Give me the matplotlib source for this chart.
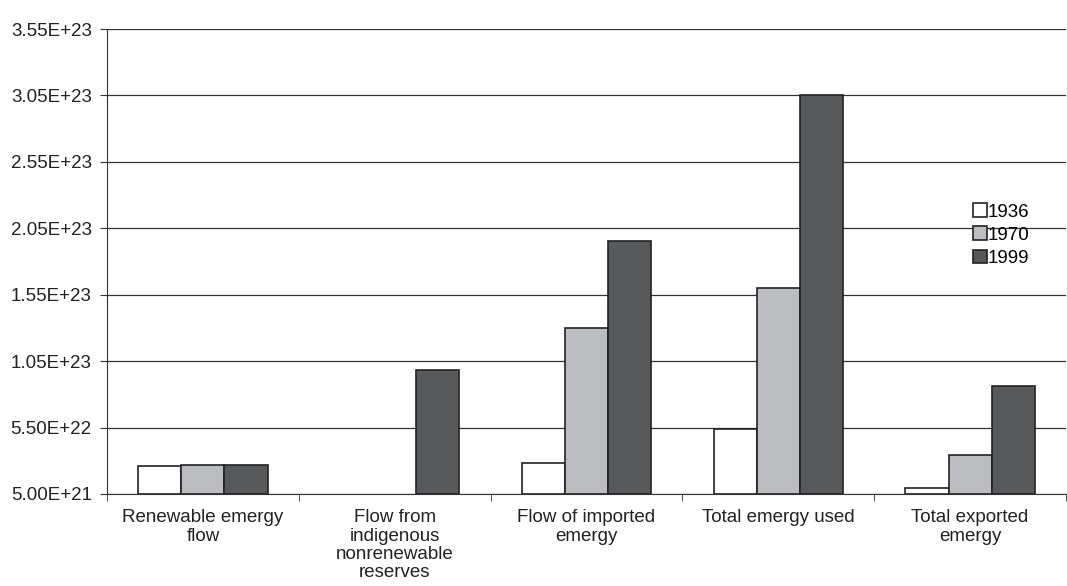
import numpy as np
import matplotlib.pyplot as plt
from matplotlib.ticker import FixedLocator, NullFormatter

categories = ["Renewable emergy\nflow",
              "Flow from\nindigenous\nnonrenewable\nreserves",
              "Flow of imported\nemergy",
              "Total emergy used",
              "Total exported\nemergy"]
years = ["1936", "1970", "1999"]
v1936 = [2.6e22, 0.0, 2.8e22, 5.4e22, 9.5e21]
v1970 = [2.7e22, 0.0, 1.30e23, 1.60e23, 3.4e22]
v1999 = [2.7e22, 9.8e22, 1.955e23, 3.05e23, 8.6e22]
colors = ["#ffffff", "#bcbdc0", "#58595b"]
yticks = [5.0e21, 5.5e22, 1.05e23, 1.55e23, 2.05e23, 2.55e23, 3.05e23, 3.55e23]
ytick_labels = ["5.00E+21", "5.50E+22", "1.05E+23", "1.55E+23",
                "2.05E+23", "2.55E+23", "3.05E+23", "3.55E+23"]

plt.rcParams['font.family'] = ['Liberation Sans', 'DejaVu Sans']
fs = 13.5

fig = plt.figure(figsize=(10.67, 5.86), dpi=100)
ax = fig.add_axes([107 / 1067, 1 - 494 / 586, (1066 - 107) / 1067, (494 - 29) / 586])

base = yticks[0]
x = np.arange(len(categories))
w = 0.225
for i, (vals, col, lab) in enumerate(zip([v1936, v1970, v1999], colors, years)):
    heights = [max(v - base, 0) for v in vals]
    shown = [h > 0 for h in heights]
    ax.bar(x[shown] + (i - 1) * w, np.array(heights)[shown], width=w, bottom=base,
           color=col, edgecolor="#222222", linewidth=1.2, label=lab, zorder=3)

ax.set_ylim(yticks[0], yticks[-1])
ax.set_xlim(-0.5, len(categories) - 0.5)
ax.set_yticks(yticks)
ax.set_yticklabels(ytick_labels, fontsize=fs, color="#222222")
ax.yaxis.grid(True, color="#333333", linewidth=0.9, zorder=0)
ax.set_axisbelow(True)

ax.set_xticks(x)
ax.set_xticklabels(categories, fontsize=fs, va="top", linespacing=1.1, color="#222222")
ax.tick_params(axis="x", length=0, pad=11)
ax.xaxis.set_minor_locator(FixedLocator(np.arange(-0.5, len(categories), 1.0)))
ax.xaxis.set_minor_formatter(NullFormatter())
ax.tick_params(axis="x", which="minor", length=5, color="#333333")
ax.tick_params(axis="y", length=5, color="#333333", pad=6)

for s in ["top", "right"]:
    ax.spines[s].set_visible(False)
ax.spines["left"].set_color("#333333")
ax.spines["bottom"].set_color("#333333")

ax.legend(loc="upper left", bbox_to_anchor=(0.893, 0.645), frameon=False,
          fontsize=fs, handlelength=0.75, handleheight=0.75, handletextpad=0.05,
          labelspacing=0.3, borderpad=0)

fig.savefig("out.png", dpi=100)
